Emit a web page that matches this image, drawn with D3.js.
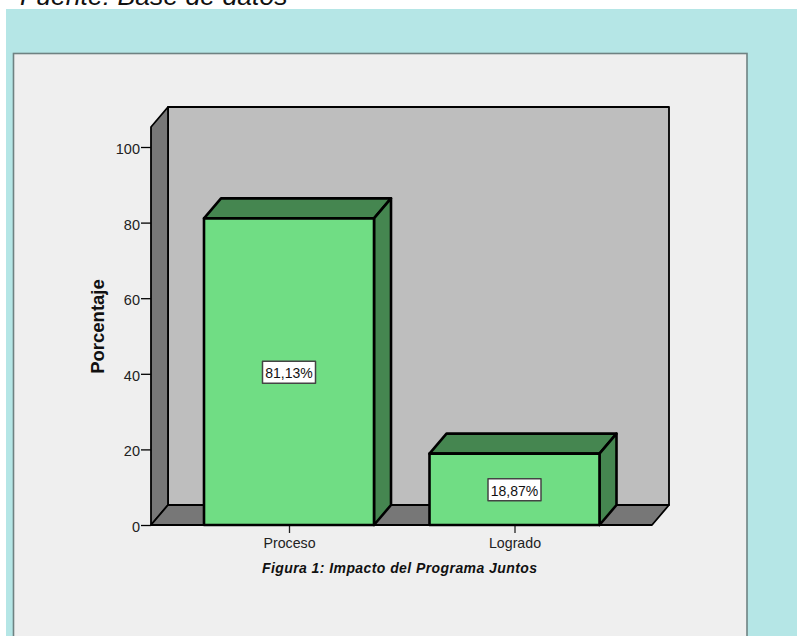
<!DOCTYPE html>
<html><head><meta charset="utf-8">
<script src="https://cdnjs.cloudflare.com/ajax/libs/d3/7.8.5/d3.min.js"></script>
<style>html,body{margin:0;padding:0;background:#fff;overflow:hidden}svg{display:block}text{font-family:"Liberation Sans",Arial,sans-serif}</style>
</head><body><svg id="c" width="797" height="636"></svg>
<script>
const categories = ["Proceso", "Logrado"];
const values = [81.13, 18.87];
const valueLabels = ["81,13%", "18,87%"];
const yTicks = [0, 20, 40, 60, 80, 100];
const yTitle = "Porcentaje";
const caption = "Figura 1: Impacto del Programa Juntos";
const source = "Fuente: Base de datos";

const svg = d3.select("#c");
const y = d3.scaleLinear().domain([0, 100]).range([525, 147]);
const x = d3.scalePoint().domain(categories).range([289, 514.5]);
const barW = 170, dx = 17, dy = 20;
const plotL = 151, plotR = 652, plotB = 525, plotT = 127;
const poly = pts => pts.map(p => p.join(",")).join(" ");

// page background
svg.append("rect").attr("x", 6).attr("y", 9).attr("width", 791).attr("height", 627).attr("fill", "#b5e6e6");
svg.append("text").attr("x", 20).attr("y", 5).attr("font-size", 26.6).attr("font-style", "italic").attr("fill", "#111").text(source);
svg.append("rect").attr("x", 13.5).attr("y", 53.5).attr("width", 733.5).attr("height", 600)
  .attr("fill", "#efefef").attr("stroke", "#6f8282").attr("stroke-width", 1.6);

// 3D walls
const wall = svg.append("g").attr("stroke", "#000").attr("stroke-width", 1.8).attr("stroke-linejoin", "round");
wall.append("polygon").attr("points", poly([[plotL + dx, plotT - dy], [plotR + dx, plotT - dy], [plotR + dx, plotB - dy], [plotL + dx, plotB - dy]])).attr("fill", "#bebebe");
wall.append("polygon").attr("points", poly([[plotL, plotT], [plotL + dx, plotT - dy], [plotL + dx, plotB - dy], [plotL, plotB]])).attr("fill", "#777");
wall.append("polygon").attr("points", poly([[plotL, plotB], [plotL + dx, plotB - dy], [plotR + dx, plotB - dy], [plotR, plotB]])).attr("fill", "#777");

// axes
const yAxis = d3.axisLeft(y).tickValues(yTicks).tickSize(10).tickPadding(1);
const gy = svg.append("g").attr("transform", `translate(${plotL},0)`).call(yAxis);
gy.select(".domain").remove();
gy.selectAll("line").attr("stroke", "#000").attr("stroke-width", 1.3);
gy.selectAll("text").attr("font-size", 14.5).attr("fill", "#222").attr("font-family", '"Liberation Sans",Arial,sans-serif').attr("dy", "0.62em").attr("y", -2.5);

const xAxis = d3.axisBottom(x).tickSize(8).tickPadding(5);
const gx = svg.append("g").attr("transform", `translate(0,${plotB})`).call(xAxis);
gx.select(".domain").remove();
gx.selectAll("line").attr("stroke", "#222").attr("stroke-width", 1.3);
gx.selectAll("text").attr("font-size", 14.2).attr("fill", "#222").attr("font-family", '"Liberation Sans",Arial,sans-serif');

// bars
const bars = svg.append("g").selectAll("g").data(categories).join("g")
  .attr("stroke", "#000").attr("stroke-width", 2.6).attr("stroke-linejoin", "round");
bars.each(function (c, i) {
  const g = d3.select(this);
  const l = x(c) - barW / 2, r = x(c) + barW / 2, t = y(values[i]), b = y(0);
  g.append("polygon").attr("points", poly([[l, t], [l + dx, t - dy], [r + dx, t - dy], [r, t]])).attr("fill", "#458650");
  g.append("polygon").attr("points", poly([[r, t], [r + dx, t - dy], [r + dx, b - dy], [r, b]])).attr("fill", "#458650");
  g.append("rect").attr("x", l).attr("y", t).attr("width", barW).attr("height", b - t).attr("fill", "#70dd84");
  // value label box
  const cy = (t + b) / 2 + 0.5;
  g.append("rect").attr("x", x(c) - 26.5).attr("y", cy - 11).attr("width", 53).attr("height", 22)
    .attr("fill", "#fff").attr("stroke", "#444").attr("stroke-width", 1.5);
  g.append("text").attr("x", x(c)).attr("y", cy + 6).attr("text-anchor", "middle").attr("font-size", 14)
    .attr("stroke", "none").attr("fill", "#111").text(valueLabels[i]);
});

// titles
svg.append("text").attr("transform", "translate(103.5,326.5) rotate(-90)").attr("text-anchor", "middle")
  .attr("font-size", 18.5).attr("font-weight", "bold").attr("fill", "#111").text(yTitle);
svg.append("text").attr("x", 399.5).attr("y", 572.5).attr("text-anchor", "middle").attr("font-size", 14)
  .attr("textLength", 275).attr("lengthAdjust", "spacing")
  .attr("font-weight", "bold").attr("font-style", "italic").attr("fill", "#111").text(caption);
</script></body></html>
